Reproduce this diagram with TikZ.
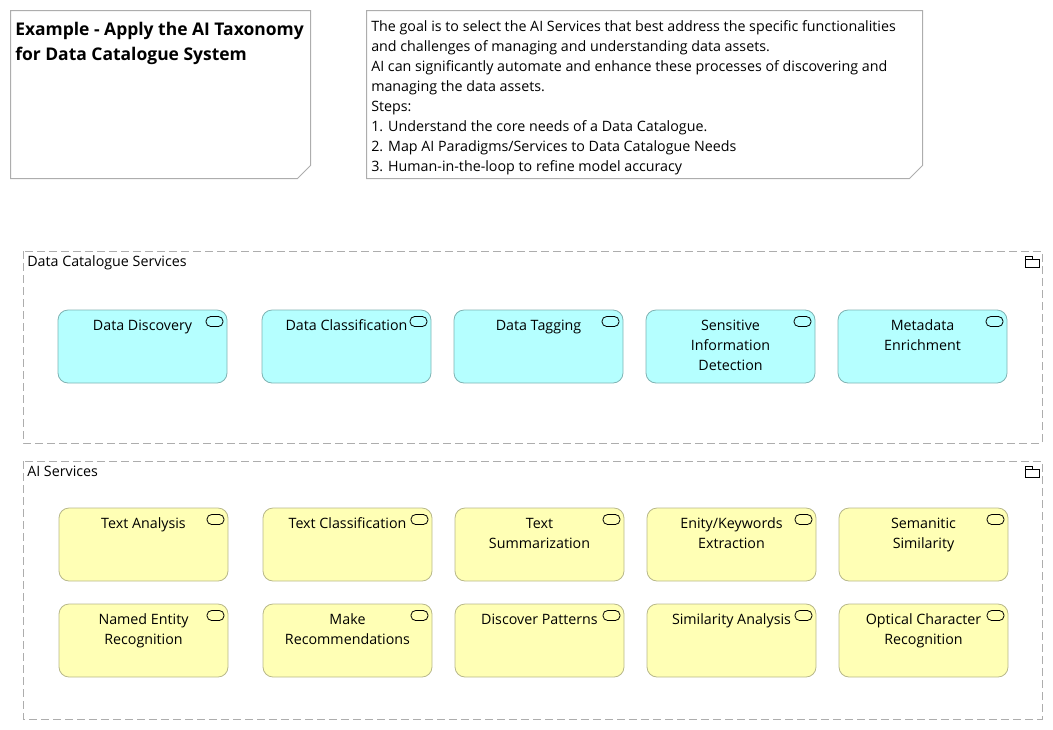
\documentclass[tikz,border=0pt]{standalone}
\usepackage{fontspec}
\setmainfont{Open Sans}
\tikzset{
    notebox/.style={draw=black!32, line width=0.75pt, fill=white},
    groupbox/.style={draw=black!32, line width=0.75pt, dash pattern=on 6pt off 3pt},
    grouplabel/.style={anchor=north west, inner sep=0pt, font=\fontsize{10.7pt}{15pt}\selectfont},
    svcbox/.style={rounded corners=7.5pt, line width=0.6pt},
    svcblue/.style={svcbox, fill=svcfillblue, draw=svcdrawblue},
    svcyellow/.style={svcbox, fill=svcfillyellow, draw=svcdrawyellow},
    svctext/.style={anchor=north, align=center, inner sep=0pt, font=\fontsize{10.7pt}{15pt}\selectfont},
    notetext/.style={anchor=north west, align=left, inner sep=0pt, font=\fontsize{10.7pt}{15pt}\selectfont},
    titletext/.style={anchor=north west, align=left, inner sep=0pt, font=\fontsize{13.1pt}{18.75pt}\selectfont\bfseries},
}
\definecolor{svcfillblue}{HTML}{B5FFFF}
\definecolor{svcdrawblue}{HTML}{7FB3B3}
\definecolor{svcfillyellow}{HTML}{FFFFB5}
\definecolor{svcdrawyellow}{HTML}{B8B88A}
% service box: style, left, top, name, text
\newcommand{\svcnode}[5]{
    \draw[#1] (#2,#3) rectangle +(169,73);
    \node[svctext] (#4) at (#2+84.5,#3+6) {\strut #5};
    \draw[black, line width=0.6pt, rounded corners=3.5pt] (#2+148,#3+6.5) rectangle +(17,10);
}
% folder icon: left, top
\newcommand{\foldericon}[2]{
    \draw[black, line width=0.6pt] (#1,#2+3.5) rectangle +(14,7.5);
    \draw[black, line width=0.6pt] (#1,#2+3.5) -- (#1,#2) -- (#1+7,#2) -- (#1+7,#2+3.5);
}
\begin{document}
\begin{tikzpicture}[x=0.75pt, y=-0.75pt]

    \useasboundingbox (0,0) rectangle (1053,729);

    % Notes
    \draw[notebox] (10.5,10.5) -- (310.5,10.5) -- (310.5,165.5) -- (297.5,178.5) -- (10.5,178.5) -- cycle;
    \node[titletext] (title) at (15,17.5) {\strut Example - Apply the AI Taxonomy\\for Data Catalogue System};

    \draw[notebox] (366.5,10.5) -- (922.5,10.5) -- (922.5,165.5) -- (909.5,178.5) -- (366.5,178.5) -- cycle;
    \node[notetext] (goal) at (371,17) {\strut The goal is to select the AI Services that best address the specific functionalities\\
        and challenges of managing and understanding data assets.\\
        AI can significantly automate and enhance these processes of discovering and\\
        managing the data assets.\\
        Steps:\\
        1. Understand the core needs of a Data Catalogue.\\
        2. Map AI Paradigms/Services to Data Catalogue Needs\\
        3. Human-in-the-loop to refine model accuracy};

    % Data Catalogue Services
    \draw[groupbox] (23,251) rectangle (1042,443);
    \node[grouplabel] (catalogue) at (27,252) {\strut Data Catalogue Services};
    \foldericon{1025}{256}

    \svcnode{svcblue}{58}{310}{discovery}{Data Discovery}
    \svcnode{svcblue}{262}{310}{classification}{Data Classification}
    \svcnode{svcblue}{454}{310}{tagging}{Data Tagging}
    \svcnode{svcblue}{646}{310}{sensitive}{Sensitive\\Information\\Detection}
    \svcnode{svcblue}{838}{310}{metadata}{Metadata\\Enrichment}

    % AI Services
    \draw[groupbox] (23,461) rectangle (1042,719);
    \node[grouplabel] (aiservices) at (27,462) {\strut AI Services};
    \foldericon{1025}{466}

    \svcnode{svcyellow}{59}{508}{analysis}{Text Analysis}
    \svcnode{svcyellow}{263}{508}{textclass}{Text Classification}
    \svcnode{svcyellow}{455}{508}{summary}{Text\\Summarization}
    \svcnode{svcyellow}{647}{508}{keywords}{Enity/Keywords\\Extraction}
    \svcnode{svcyellow}{839}{508}{semantic}{Semanitic\\Similarity}

    \svcnode{svcyellow}{59}{604}{entity}{Named Entity\\Recognition}
    \svcnode{svcyellow}{263}{604}{recommend}{Make\\Recommendations}
    \svcnode{svcyellow}{455}{604}{patterns}{Discover Patterns}
    \svcnode{svcyellow}{647}{604}{similarity}{Similarity Analysis}
    \svcnode{svcyellow}{839}{604}{ocr}{Optical Character\\Recognition}

\end{tikzpicture}
\end{document}
